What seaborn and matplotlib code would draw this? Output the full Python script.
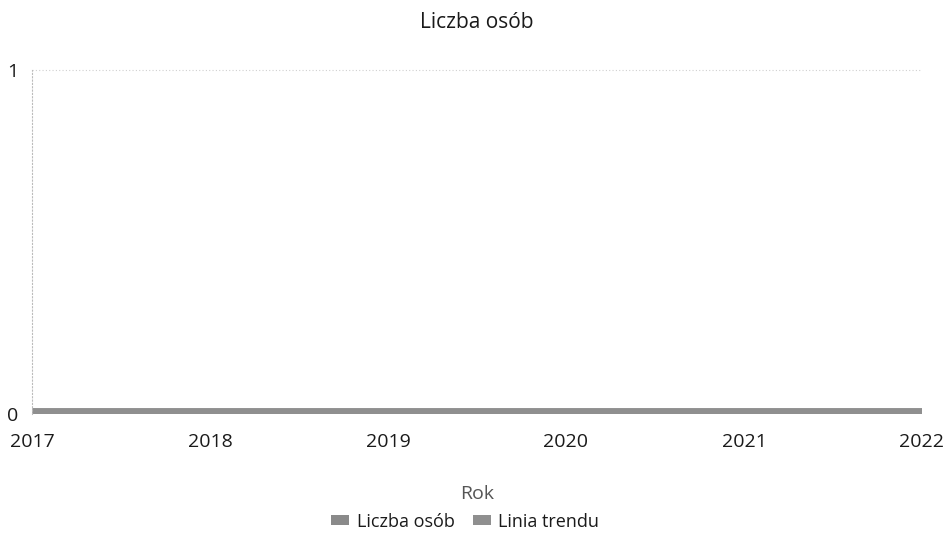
import matplotlib
matplotlib.use("Agg")
import matplotlib.pyplot as plt
from matplotlib.patches import Patch
import pandas as pd
import seaborn as sns

# data
years = [2017, 2018, 2019, 2020, 2021, 2022]
liczba_osob = [0, 0, 0, 0, 0, 0]
linia_trendu = [0, 0, 0, 0, 0, 0]
series_names = ["Liczba osób", "Linia trendu"]
colors = ["#8a8a8a", "#8f8f8f"]

df = pd.DataFrame({
    "Rok": years * 2,
    "Liczba": liczba_osob + linia_trendu,
    "Seria": [series_names[0]] * len(years) + [series_names[1]] * len(years),
})

sns.set_theme(style="white")
plt.rcParams["font.family"] = ["Open Sans", "DejaVu Sans"]

fig = plt.figure(figsize=(9.49, 5.49), dpi=100)
ax = fig.add_axes([32 / 949, (549 - 414) / 549, 890 / 949, 344 / 549])

sns.lineplot(data=df, x="Rok", y="Liczba", hue="Seria", palette=colors,
             linewidth=9, ax=ax, legend=False, solid_capstyle="butt")

ax.set_xlim(2017, 2022)
ax.set_ylim(0, 1)
ax.set_xticks(years)
ax.set_xticklabels([str(y) for y in years], fontsize=14, color="#1a1a1a")
ax.set_yticks([0, 1])
ax.set_yticklabels(["0", "1"], fontsize=14, color="#1a1a1a")
ax.tick_params(axis="x", length=0, pad=14)
ax.tick_params(axis="y", length=0, pad=10)

for s in ["top", "right", "bottom"]:
    ax.spines[s].set_visible(False)
ax.spines["left"].set_linestyle((0, (1, 2)))
ax.spines["left"].set_color("#bbbbbb")
ax.spines["left"].set_linewidth(0.8)
ax.axhline(1, color="#d0d0d0", linestyle=(0, (1, 2)), linewidth=0.8, clip_on=False)

ax.set_xlabel("Rok", fontsize=14, color="#555555", labelpad=24)
ax.set_ylabel("")
ax.set_title("Liczba osób", fontsize=15, color="#1a1a1a", pad=30)

handles = [Patch(facecolor=c, edgecolor="none") for c in colors]
fig.legend(handles, series_names, loc="center", bbox_to_anchor=(0.49, 0.05),
           ncol=2, frameon=False, fontsize=13, handlelength=1.0, handleheight=0.45,
           columnspacing=1.0, handletextpad=0.4, labelcolor="#1a1a1a")

fig.savefig("out.png", dpi=100, facecolor="white")
